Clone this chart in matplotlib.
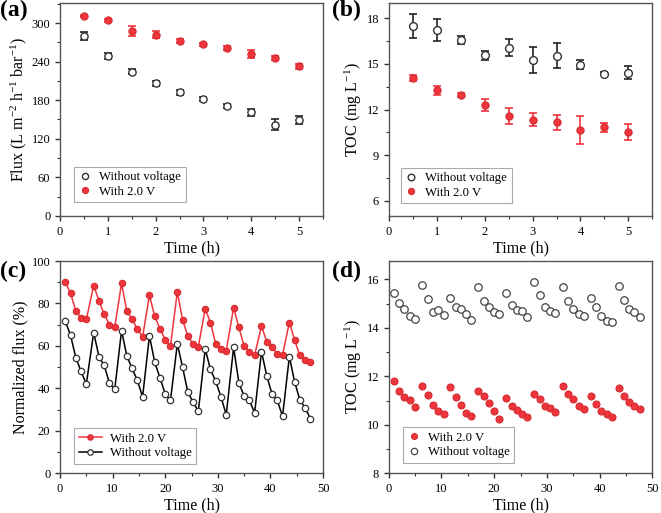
import matplotlib
matplotlib.use("Agg")
import matplotlib.pyplot as plt
from matplotlib.ticker import MultipleLocator

plt.rcParams["font.family"] = ["Liberation Serif", "DejaVu Serif"]
plt.rcParams["mathtext.fontset"] = "custom"
plt.rcParams["mathtext.rm"] = "Liberation Serif"
plt.rcParams["mathtext.it"] = "Liberation Serif:italic"

RED = "#f0353c"
RED_EDGE = "#d42a30"

# (a) flux vs time
t_short = [0.5, 1.0, 1.5, 2.0, 2.5, 3.0, 3.5, 4.0, 4.5, 5.0]
flux_off = [280, 249, 224, 206, 192, 182, 171, 161, 142, 149]
flux_off_err = [6, 5, 4, 4, 4, 3, 3, 6, 8, 6]
flux_on = [311, 304, 288, 282, 272, 267, 261, 252, 245, 233]
flux_on_err = [2, 2, 8, 5, 3, 2, 3, 6, 3, 4]

# (b) TOC vs time
toc_off = [17.49, 17.23, 16.57, 15.58, 16.06, 15.27, 15.55, 14.96, 14.34, 14.43]
toc_off_err = [0.8, 0.72, 0.25, 0.3, 0.55, 0.85, 0.8, 0.3, 0.1, 0.4]
toc_on = [14.08, 13.26, 12.96, 12.28, 11.58, 11.32, 11.17, 10.65, 10.82, 10.51]
toc_on_err = [0.2, 0.3, 0.12, 0.4, 0.52, 0.42, 0.5, 0.9, 0.27, 0.52]

# (c), (d) cyclic runs
t_long = [1.0, 2.0, 3.0, 4.0, 5.0,
          6.4, 7.4, 8.4, 9.4, 10.4,
          11.7, 12.7, 13.7, 14.7, 15.7,
          17.0, 18.0, 19.0, 20.0, 21.0,
          22.3, 23.3, 24.3, 25.3, 26.3,
          27.6, 28.6, 29.6, 30.6, 31.6,
          33.0, 34.0, 35.0, 36.0, 37.0,
          38.3, 39.3, 40.3, 41.3, 42.3,
          43.6, 44.6, 45.6, 46.6, 47.6]
nflux_on = [90.0, 84.8, 76.6, 73.2, 72.5,
            88.4, 81.3, 74.9, 70.0, 68.8,
            89.5, 76.3, 72.7, 67.8, 64.4,
            83.8, 74.0, 68.0, 63.0, 60.0,
            85.5, 72.3, 64.5, 61.0, 59.7,
            77.5, 71.0, 61.0, 58.5, 57.7,
            78.0, 68.7, 60.0, 57.3, 55.8,
            69.3, 62.0, 59.4, 56.3, 55.8,
            71.0, 62.8, 55.5, 53.3, 52.3]
nflux_off = [71.7, 65.0, 54.5, 48.0, 42.0,
             66.3, 55.0, 50.8, 42.5, 39.5,
             67.2, 55.3, 49.4, 43.8, 36.0,
             64.8, 52.3, 45.0, 37.3, 34.4,
             61.0, 50.0, 38.2, 33.5, 29.2,
             58.5, 49.0, 43.3, 36.0, 27.6,
             59.3, 42.7, 36.3, 34.4, 28.5,
             57.3, 46.0, 37.3, 34.4, 26.8,
             55.0, 43.0, 34.6, 30.8, 25.8]
toc_long_off = [15.42, 15.01, 14.76, 14.49, 14.38,
                15.77, 15.20, 14.65, 14.72, 14.52,
                15.24, 14.87, 14.79, 14.56, 14.31,
                15.70, 15.09, 14.87, 14.64, 14.56,
                15.46, 14.93, 14.72, 14.69, 14.46,
                15.88, 15.36, 14.87, 14.69, 14.60,
                15.68, 15.13, 14.79, 14.57, 14.49,
                15.24, 14.85, 14.50, 14.28, 14.25,
                15.72, 15.16, 14.78, 14.64, 14.43]
toc_long_on = [11.82, 11.38, 11.16, 11.02, 10.72,
               11.59, 11.23, 10.80, 10.57, 10.46,
               11.58, 11.13, 10.80, 10.47, 10.36,
               11.38, 11.20, 10.91, 10.57, 10.23,
               11.10, 10.78, 10.61, 10.46, 10.31,
               11.29, 11.05, 10.76, 10.68, 10.52,
               11.59, 11.26, 11.05, 10.76, 10.64,
               11.20, 10.86, 10.57, 10.46, 10.31,
               11.50, 11.19, 10.93, 10.78, 10.64]

FS_LABEL = 11.5


def estilo(ax, xlabel, ylabel):
    for s in ax.spines.values():
        s.set_color("#555555")
        s.set_linewidth(1.0)
    ax.tick_params(which="both", direction="out", top=False, right=False,
                   labelsize=9, colors="#333333", labelcolor="black")
    ax.tick_params(which="major", length=3.5, width=1)
    ax.tick_params(which="minor", length=2, width=0.8)
    ax.set_xlabel(xlabel, fontsize=FS_LABEL, labelpad=2)
    ax.set_ylabel(ylabel, fontsize=FS_LABEL, labelpad=2)


def leyenda(ax, anchor, handlelength=1.0):
    lg = ax.legend(loc="lower left", bbox_to_anchor=anchor, fontsize=9.2,
                   handlelength=handlelength, handletextpad=0.6,
                   borderpad=0.35, labelspacing=0.2, borderaxespad=0,
                   fancybox=False, markerscale=0.85, framealpha=1)
    lg.get_frame().set_edgecolor("#aaaaaa")
    lg.get_frame().set_linewidth(0.8)


fig = plt.figure(figsize=(6.61, 5.13), dpi=100)
ax_a = fig.add_axes([0.0908, 0.579, 0.3979, 0.415])
ax_b = fig.add_axes([0.588, 0.579, 0.399, 0.415])
ax_c = fig.add_axes([0.0908, 0.0774, 0.3979, 0.4138])
ax_d = fig.add_axes([0.588, 0.0774, 0.399, 0.4138])

# (a)
ax_a.errorbar(t_short, flux_off, yerr=flux_off_err, fmt="none", ecolor="#222222",
              elinewidth=1.2, capsize=3, capthick=1.2)
ax_a.errorbar(t_short, flux_on, yerr=flux_on_err, fmt="none", ecolor=RED,
              elinewidth=1.2, capsize=3, capthick=1.2)
ax_a.plot(t_short, flux_off, "o", ms=5.2, mfc="white", mec="#333333", mew=1,
          label="Without voltage")
ax_a.plot(t_short, flux_on, "o", ms=5.2, mfc=RED, mec=RED_EDGE, mew=0.8,
          label="With 2.0 V")
ax_a.set_xlim(0, 5.5)
ax_a.set_ylim(0, 331)
ax_a.xaxis.set_major_locator(MultipleLocator(1))
ax_a.xaxis.set_minor_locator(MultipleLocator(0.5))
ax_a.yaxis.set_major_locator(MultipleLocator(60))
ax_a.yaxis.set_minor_locator(MultipleLocator(30))
estilo(ax_a, "Time (h)", r"Flux (L m$^{-2}$ h$^{-1}$ bar$^{-1}$)")
leyenda(ax_a, (0.055, 0.065))

# (b)
ax_b.errorbar(t_short, toc_off, yerr=toc_off_err, fmt="none", ecolor="#222222",
              elinewidth=1.2, capsize=3, capthick=1.2)
ax_b.errorbar(t_short, toc_on, yerr=toc_on_err, fmt="none", ecolor=RED,
              elinewidth=1.2, capsize=3, capthick=1.2)
ax_b.plot(t_short, toc_off, "o", ms=5.6, mfc="white", mec="#333333", mew=1,
          label="Without voltage")
ax_b.plot(t_short, toc_on, "o", ms=5.2, mfc=RED, mec=RED_EDGE, mew=0.8,
          label="With 2.0 V")
ax_b.set_xlim(0, 5.5)
ax_b.set_ylim(5, 19)
ax_b.xaxis.set_major_locator(MultipleLocator(1))
ax_b.xaxis.set_minor_locator(MultipleLocator(0.5))
ax_b.yaxis.set_major_locator(MultipleLocator(3))
ax_b.yaxis.set_minor_locator(MultipleLocator(1.5))
estilo(ax_b, "Time (h)", r"TOC (mg L$^{-1}$)")
leyenda(ax_b, (0.045, 0.06))

# (c)
ax_c.plot(t_long, nflux_on, "-o", color=RED, lw=1.1, ms=4.6,
          mfc=RED, mec=RED_EDGE, mew=0.8, label="With 2.0 V")
ax_c.plot(t_long, nflux_off, "-o", color="black", lw=1.1, ms=4.6,
          mfc="white", mec="#333333", mew=0.9, label="Without voltage")
ax_c.set_xlim(0, 50)
ax_c.set_ylim(0, 100)
ax_c.xaxis.set_major_locator(MultipleLocator(10))
ax_c.xaxis.set_minor_locator(MultipleLocator(5))
ax_c.yaxis.set_major_locator(MultipleLocator(20))
ax_c.yaxis.set_minor_locator(MultipleLocator(10))
estilo(ax_c, "Time (h)", "Normalized flux (%)")
leyenda(ax_c, (0.055, 0.045), handlelength=1.8)

# (d)
ax_d.plot(t_long, toc_long_on, "o", ms=5.0, mfc=RED, mec=RED_EDGE, mew=0.8,
          label="With 2.0 V")
ax_d.plot(t_long, toc_long_off, "o", ms=5.4, mfc="white", mec="#444444",
          mew=0.9, label="Without voltage")
ax_d.set_xlim(0, 50)
ax_d.set_ylim(8, 16.76)
ax_d.xaxis.set_major_locator(MultipleLocator(10))
ax_d.xaxis.set_minor_locator(MultipleLocator(5))
ax_d.yaxis.set_major_locator(MultipleLocator(2))
ax_d.yaxis.set_minor_locator(MultipleLocator(1))
estilo(ax_d, "Time (h)", r"TOC (mg L$^{-1}$)")
leyenda(ax_d, (0.055, 0.05))

for txt, x, y in (("(a)", 0.0, 1.0), ("(b)", 0.502, 1.0),
                  ("(c)", 0.0, 0.492), ("(d)", 0.502, 0.492)):
    fig.text(x, y, txt, fontsize=17, fontweight="bold", ha="left", va="top")

fig.savefig("out.png", dpi=100)
